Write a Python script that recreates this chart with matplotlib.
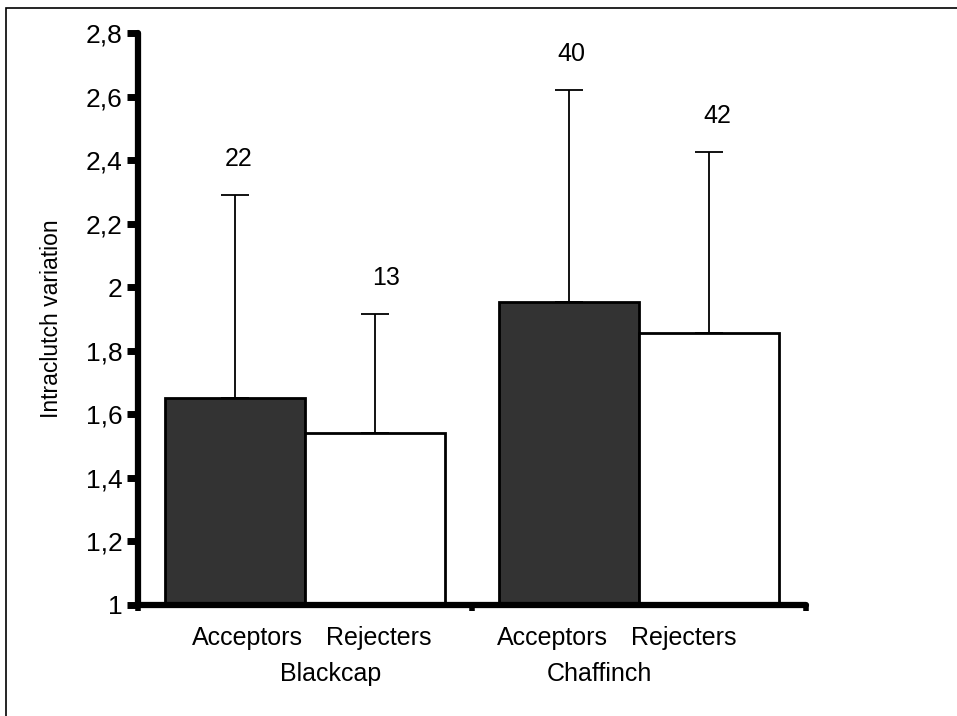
import matplotlib.pyplot as plt
from matplotlib.patches import Rectangle

species = ["Blackcap", "Chaffinch"]
groups = ["Acceptors", "Rejecters"]
means = [[1.65, 1.54], [1.955, 1.855]]
upper_err = [[0.64, 0.375], [0.665, 0.57]]
sample_n = [["22", "13"], ["40", "42"]]
y_ticks = [1, 1.2, 1.4, 1.6, 1.8, 2, 2.2, 2.4, 2.6, 2.8]
y_tick_labels = ["1", "1,2", "1,4", "1,6", "1,8", "2", "2,2", "2,4", "2,6", "2,8"]

plt.rcParams["font.family"] = ["Liberation Sans", "DejaVu Sans"]

fig = plt.figure(figsize=(9.57, 7.16), dpi=100)
W, H = 957, 716

# outer frame
fig.patches.append(Rectangle((6 / W, -0.1), 1.2, (H - 8) / H + 0.1,
                             transform=fig.transFigure, fill=False,
                             edgecolor="black", linewidth=1.2))

ax = fig.add_axes([138 / W, (H - 605) / H, (806 - 138) / W, (605 - 33) / H])

bar_w = 0.418
colors = ["#333333", "white"]
offsets = [-0.209, 0.209]
# text placement offsets (axis units)
n_dx = [[0.01, 0.034], [0.006, 0.026]]
label_dx = [[0.038, 0.013], [-0.051, -0.074]]
name_dx = [0.078, -0.117]

for i, sp in enumerate(species):
    for j, grp in enumerate(groups):
        x = i + 0.5 + offsets[j]
        ax.bar(x, means[i][j] - 1, bottom=1, width=bar_w,
               color=colors[j], edgecolor="black", linewidth=2, zorder=2)
        ax.errorbar(x, means[i][j], yerr=[[0], [upper_err[i][j]]],
                    color="black", linewidth=1.3, capsize=10, capthick=1.3,
                    zorder=1)
        ax.text(x + n_dx[i][j], means[i][j] + upper_err[i][j] + 0.115,
                sample_n[i][j], ha="center", va="center", fontsize=18,
                clip_on=False)
        ax.text(x + label_dx[i][j], 0.896, grp,
                ha="center", va="center", fontsize=18, clip_on=False)
    ax.text(i + 0.5 + name_dx[i], 0.783, sp, ha="center", va="center",
            fontsize=18, clip_on=False)

ax.set_xlim(0, 2)
ax.set_ylim(1, 2.8)
ax.set_yticks(y_ticks)
ax.set_yticklabels(y_tick_labels, fontsize=19)
ax.set_xticks([0, 1, 2])
ax.set_xticklabels([])
ax.tick_params(axis="y", direction="out", length=8, width=5, pad=3)
ax.tick_params(axis="x", direction="out", length=4, width=4)
for t in ax.yaxis.get_ticklines() + ax.xaxis.get_ticklines():
    t.set_solid_capstyle("round")

for side in ["top", "right"]:
    ax.spines[side].set_visible(False)
for side in ["left", "bottom"]:
    ax.spines[side].set_linewidth(4.5)
    ax.spines[side].set_capstyle("round")

ax.set_ylabel("Intraclutch variation", fontsize=16.5)
ax.yaxis.set_label_coords(-0.112, 0.5)

fig.savefig("out.png", dpi=100)
